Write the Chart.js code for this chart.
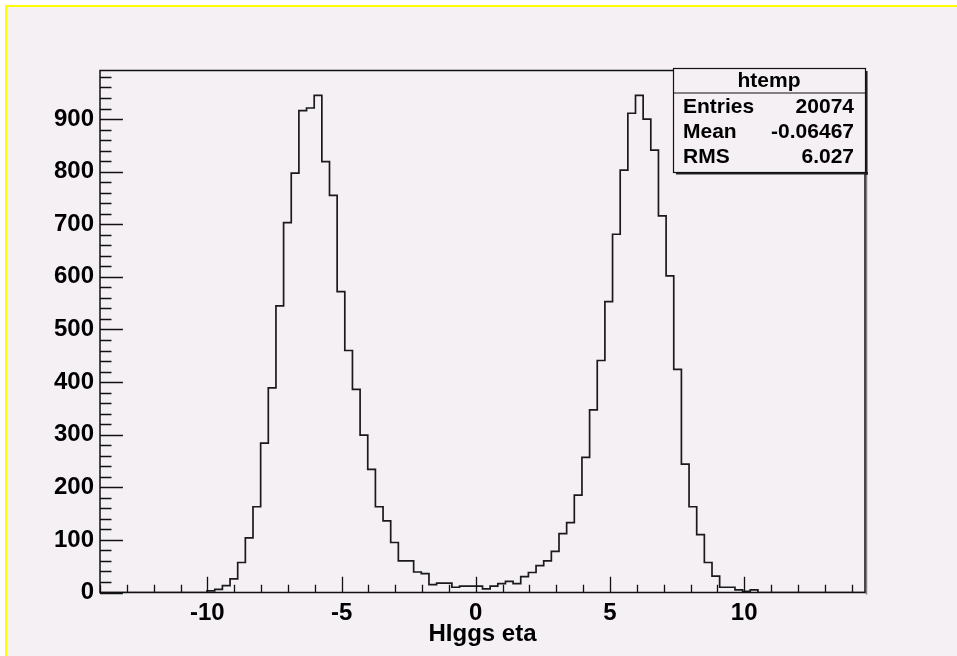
<!DOCTYPE html>
<html>
<head>
<meta charset="utf-8">
<title>HIggs eta</title>
<script src="https://cdn.jsdelivr.net/npm/chart.js@4.4.1/dist/chart.umd.min.js"></script>
<style>
  html, body { margin: 0; padding: 0; background: #fff; }
</style>
</head>
<body>
<canvas id="histo" width="957" height="656"></canvas>
<script>
// htemp : Higgs eta, 100 bins from xMin to xMax
var xMin = -14;
var xMax = 14.5;
var binCounts = [
    0, 0, 0, 0, 0, 0, 0, 0, 0, 0,
    0, 0, 0, 0, 3, 6, 13, 26, 57, 104,
    163, 284, 389, 545, 703, 797, 916, 921, 945, 819,
    755, 572, 460, 386, 299, 234, 163, 136, 95, 60,
    60, 39, 36, 15, 18, 18, 10, 12, 12, 12,
    7, 12, 17, 21, 17, 30, 38, 51, 60, 78,
    112, 133, 185, 257, 347, 441, 553, 681, 803, 911,
    945, 900, 841, 716, 602, 424, 244, 163, 110, 57,
    31, 10, 10, 5, 2, 5, 0, 0, 0, 0,
    0, 0, 0, 0, 0, 0, 0, 0, 0, 0
];
var yMax = 992.25;
var xTickValues = [-10, -5, 0, 5, 10];
var xTickLabels = ['-10', '-5', '0', '5', '10'];
var yTickValues = [0, 100, 200, 300, 400, 500, 600, 700, 800, 900];
var yTickLabels = ['0', '100', '200', '300', '400', '500', '600', '700', '800', '900'];
var xTitle = 'HIggs eta';
var statsTitle = 'htemp';
var statsNames = ['Entries', 'Mean', 'RMS'];
var statsValues = ['20074', '-0.06467', '6.027'];

var bg = '#f4f0f4';
var fontFamily = '"Liberation Sans", Arial, Helvetica, sans-serif';

// one point per bin low edge ('before' keeps its value up to the next edge),
// plus the upper edge of the last bin
var binWidth = (xMax - xMin) / binCounts.length;
var steps = binCounts.map(function(c, i) {
    return { x: xMin + i * binWidth, y: c };
});
steps.push({ x: xMax, y: binCounts[binCounts.length - 1] });

// canvas background, yellow pad border, frame, inner ticks, stats box
var rootLook = {
    id: 'rootLook',
    beforeDraw: function(chart) {
        var ctx = chart.ctx;
        ctx.save();
        ctx.fillStyle = '#ffffff';
        ctx.fillRect(0, 0, chart.width, chart.height);
        ctx.fillStyle = bg;
        ctx.fillRect(5, 5, chart.width - 5, chart.height - 5);
        ctx.fillStyle = '#ffff00';
        ctx.fillRect(5, 5, chart.width - 5, 2);
        ctx.fillRect(5, 5, 2, chart.height - 5);
        ctx.restore();
    },
    afterDatasetsDraw: function(chart) {
        var ctx = chart.ctx;
        var a = chart.chartArea;
        var xs = chart.scales.x, ys = chart.scales.y;
        ctx.save();

        // frame
        ctx.strokeStyle = '#111';
        ctx.lineWidth = 1.5;
        ctx.strokeRect(a.left, a.top, a.right - a.left, a.bottom - a.top);
        ctx.fillStyle = 'rgba(60,60,60,0.6)';
        ctx.fillRect(a.right + 0.75, a.top + 1, 1.5, a.bottom - a.top + 1);

        // y ticks (inside, left axis)
        var yLen = 0.03 * (a.right - a.left);
        ctx.lineWidth = 1.3;
        ctx.beginPath();
        for (var v = 0; v <= yMax; v += 20) {
            var py = Math.round(ys.getPixelForValue(v)) + 0.5;
            var len = (v % 100 === 0) ? yLen : yLen / 2;
            ctx.moveTo(a.left, py);
            ctx.lineTo(a.left + len, py);
        }
        // x ticks (inside, bottom axis)
        var xLen = 0.03 * (a.bottom - a.top);
        for (var t = Math.ceil(xMin); t <= xMax; t += 1) {
            var px = Math.round(xs.getPixelForValue(t)) + 0.5;
            var l = (t % 5 === 0) ? xLen : xLen / 2;
            ctx.moveTo(px, a.bottom);
            ctx.lineTo(px, a.bottom - l);
        }
        ctx.stroke();

        // stats box
        var bx = 673, by = 68, bw = 192, bh = 104;
        ctx.fillStyle = bg;
        ctx.fillRect(bx, by, bw, bh);
        ctx.fillStyle = '#222';
        ctx.fillRect(bx + bw, by + 3, 2.5, bh);
        ctx.fillRect(bx + 3, by + bh, bw, 2.5);
        ctx.strokeStyle = '#111';
        ctx.lineWidth = 1.2;
        ctx.strokeRect(bx + 0.5, by + 0.5, bw, bh);
        ctx.beginPath();
        ctx.moveTo(bx, 93);
        ctx.lineTo(bx + bw, 93);
        ctx.stroke();

        ctx.fillStyle = '#000';
        ctx.font = 'bold 21px ' + fontFamily;
        ctx.textBaseline = 'alphabetic';
        ctx.textAlign = 'center';
        ctx.fillText(statsTitle, bx + bw / 2, 87);
        var rows = [113, 137.5, 163];
        statsNames.forEach(function(name, i) {
            ctx.textAlign = 'left';
            ctx.fillText(name, 683, rows[i]);
            ctx.textAlign = 'right';
            ctx.fillText(statsValues[i], 854, rows[i]);
        });
        ctx.restore();
    }
};

var labelFont = { family: fontFamily, size: 24, weight: 'bold' };

var histo = new Chart(document.getElementById('histo'), {
    type: 'line',
    data: {
        datasets: [{
            data: steps,
            stepped: 'before',
            borderColor: '#1a1a1a',
            borderWidth: 1.7,
            pointRadius: 0,
            fill: false
        }]
    },
    options: {
        responsive: false,
        animation: false,
        events: [],
        layout: { padding: { left: 0, right: 92, top: 70.5, bottom: 0 } },
        plugins: {
            legend: { display: false },
            tooltip: { enabled: false }
        },
        scales: {
            x: {
                type: 'linear',
                min: xMin,
                max: xMax,
                grid: { display: false, drawTicks: false },
                border: { display: false },
                afterBuildTicks: function(scale) {
                    scale.ticks = xTickValues.map(function(v) { return { value: v }; });
                },
                afterFit: function(scale) { scale.height = 63.5; },
                ticks: {
                    callback: function(value, index) { return xTickLabels[index]; },
                    font: labelFont,
                    color: '#000',
                    padding: 6,
                    maxRotation: 0,
                    autoSkip: false
                },
                title: {
                    display: true,
                    text: xTitle,
                    font: labelFont,
                    color: '#000',
                    padding: { top: 0, bottom: 7.5 }
                }
            },
            y: {
                type: 'linear',
                min: 0,
                max: yMax,
                grid: { display: false, drawTicks: false },
                border: { display: false },
                afterBuildTicks: function(scale) {
                    scale.ticks = yTickValues.map(function(v) { return { value: v }; });
                },
                afterFit: function(scale) { scale.width = 100; },
                ticks: {
                    callback: function(value, index) { return yTickLabels[index]; },
                    font: labelFont,
                    color: '#000',
                    padding: 6,
                    autoSkip: false
                }
            }
        }
    },
    plugins: [rootLook]
});
</script>
</body>
</html>
